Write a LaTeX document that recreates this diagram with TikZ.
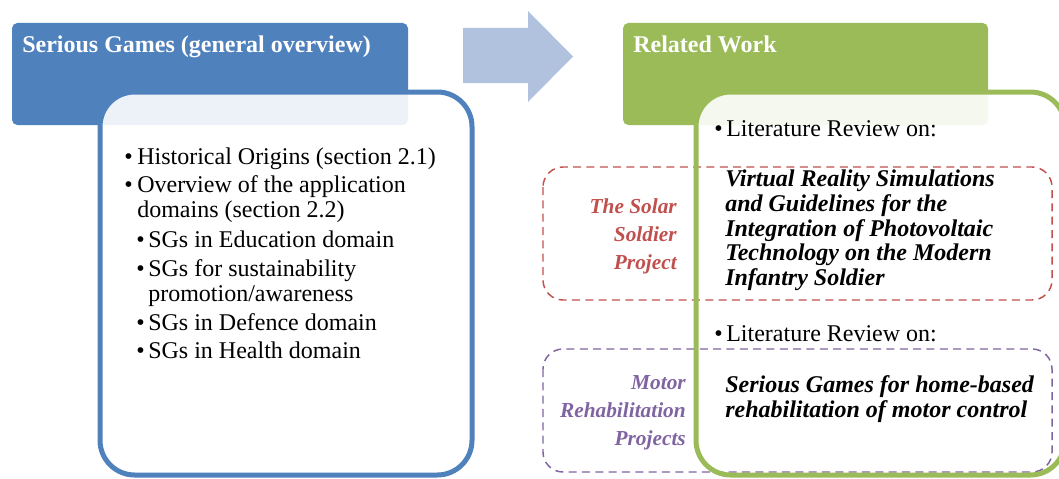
\documentclass[tikz,border=0pt]{standalone}
\usepackage{fontspec}
\setmainfont{Liberation Serif}
\definecolor{sgblue}{HTML}{4F81BD}
\definecolor{rwgreen}{HTML}{9BBB59}
\definecolor{arrowblue}{HTML}{B0C2DE}
\definecolor{solarred}{HTML}{C0504D}
\definecolor{motorpurple}{HTML}{8064A2}
\tikzset{
  header/.style={rounded corners=4pt},
  panel/.style={rounded corners=26pt, line width=3.75pt},
  group/.style={dash pattern=on 6pt off 4pt, line width=1.1pt, rounded corners=15pt},
  txt/.style={anchor=base west, inner sep=0pt, font=\fontsize{18}{20}\selectfont},
  ttl/.style={txt, text=white, font=\fontsize{18}{20}\selectfont\bfseries},
  paper/.style={txt, font=\fontsize{18}{20}\selectfont\bfseries\itshape},
  lbl/.style={anchor=base east, inner sep=0pt, font=\fontsize{16}{20}\selectfont\bfseries\itshape},
}

\begin{document}
\begin{tikzpicture}[x=0.75pt,y=-0.75pt]
        \clip (0,0) rectangle (1059,478);

        % left panel
        \fill[sgblue, header] (12,23) rectangle (408,125);
        \node[ttl] (sgtitle) at (22,53) {Serious Games (general overview)};
        \draw[sgblue, panel, fill=white, fill opacity=0.9] (100,92) rectangle (472,475);

        \node[txt] (b1) at (124,164) {•};
        \node[txt] (origins) at (137,164) {Historical Origins (section 2.1)};
        \node[txt] (b2) at (124,192) {•};
        \node[txt] (domains) at (137,192) {Overview of the application};
        \node[txt] (domainsb) at (137,217) {domains (section 2.2)};
        \node[txt] (b3) at (136,247) {•};
        \node[txt] (edu) at (148,247) {SGs in Education domain};
        \node[txt] (b4) at (136,276) {•};
        \node[txt] (sust) at (148,276) {SGs for sustainability};
        \node[txt] (sustb) at (148,301) {promotion/awareness};
        \node[txt] (b5) at (136,330) {•};
        \node[txt] (defence) at (148,330) {SGs in Defence domain};
        \node[txt] (b6) at (136,358) {•};
        \node[txt] (health) at (148,358) {SGs in Health domain};

        % arrow
        \fill[arrowblue] (463,28) -- (528,28) -- (528,11) -- (573,56.5)
            -- (528,102) -- (528,83) -- (463,83) -- cycle;

        % right panel
        \fill[rwgreen, header] (623,23) rectangle (988,125);
        \node[ttl] (rwtitle) at (633,53) {Related Work};
        \fill[white, fill opacity=0.9, rounded corners=26pt] (696,92) rectangle (1065,475);
        \draw[solarred, group] (543,167) rectangle (1052,300);
        \draw[motorpurple, group] (543,349) rectangle (1052,472);
        \draw[rwgreen, panel] (696,92) rectangle (1065,475);

        \node[txt] (b7) at (714,136) {•};
        \node[txt] (review1) at (726,136) {Literature Review on:};
        \node[paper] (solar1) at (725,186) {Virtual Reality Simulations};
        \node[paper] (solar2) at (725,211) {and Guidelines for the};
        \node[paper] (solar3) at (725,236) {Integration of Photovoltaic};
        \node[paper] (solar4) at (725,260) {Technology on the Modern};
        \node[paper] (solar5) at (725,285) {Infantry Soldier};

        \node[txt] (b8) at (714,341) {•};
        \node[txt] (review2) at (726,341) {Literature Review on:};
        \node[paper] (motor1) at (725,392) {Serious Games for home-based};
        \node[paper] (motor2) at (725,417) {rehabilitation of motor control};

        \node[lbl, text=solarred] (solarA) at (677,213) {The Solar};
        \node[lbl, text=solarred] (solarB) at (677,241) {Soldier};
        \node[lbl, text=solarred] (solarC) at (677,269) {Project};
        \node[lbl, text=motorpurple] (motorA) at (686,389) {Motor};
        \node[lbl, text=motorpurple] (motorB) at (686,417) {Rehabilitation};
        \node[lbl, text=motorpurple] (motorC) at (686,445) {Projects};
    \end{tikzpicture}
\end{document}
